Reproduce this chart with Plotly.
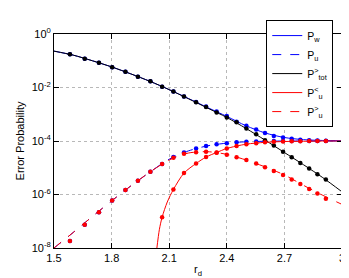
import plotly.graph_objects as go

# ---- data (log10 of probabilities) ----
r_sim = [1.583, 1.660, 1.734, 1.803, 1.872, 1.937, 2.002, 2.063, 2.122, 2.177,
         2.240, 2.292, 2.347, 2.400, 2.451, 2.502, 2.553, 2.599, 2.645, 2.693,
         2.738, 2.783, 2.829, 2.872, 2.916]

ptot_sim_log = [-0.753, -0.927, -1.077, -1.24, -1.41, -1.60, -1.77, -1.97, -2.15, -2.34,
                -2.55, -2.73, -2.93, -3.125, -3.30, -3.53, -3.75, -3.97, -4.17, -4.40,
                -4.61, -4.82, -5.03, -5.24, -5.44]
pw_sim_log = [-0.753, -0.927, -1.077, -1.24, -1.41, -1.60, -1.77, -1.97, -2.15, -2.34,
              -2.54, -2.71, -2.90, -3.07, -3.28, -3.43, -3.57, -3.70, -3.81, -3.87,
              -3.92, -3.95, -3.97, -3.98, -3.99]
pu_sim_log = [-7.74, -7.13, -6.66, -6.22, -5.83, -5.49, -5.15, -4.86, -4.60, -4.43,
              -4.28, -4.19, -4.12, -4.08, -4.05, -4.03, -4.02, -4.01, -4.00, -4.00,
              -4.00, -4.00, -4.00, -4.00, -4.00]
pul_sim_log = [None, None, None, None, None, None, None, -6.85, -5.81, -5.20,
               -4.84, -4.60, -4.43, -4.28, -4.19, -4.12, -4.08, -4.05, -4.03, -4.02,
               -4.01, -4.01, -4.00, -4.00, -4.00]
pug_sim_log = [-7.74, -7.13, -6.66, -6.22, -5.83, -5.49, -5.15, -4.86, -4.63, -4.48,
               -4.42, -4.40, -4.44, -4.51, -4.61, -4.71, -4.84, -4.98, -5.12, -5.27,
               -5.44, -5.61, -5.79, -5.96, -6.16]

r_line = [1.5, 1.6, 1.7, 1.8, 1.9, 2.0, 2.1, 2.2, 2.3, 2.4, 2.5, 2.6, 2.7, 2.8, 2.9, 3.0]
ptot_line_log = [-0.64, -0.79, -1.00, -1.23, -1.49, -1.77, -2.08, -2.42, -2.77, -3.12,
                 -3.53, -3.97, -4.43, -4.89, -5.37, -5.90]
pw_line_log = [-0.64, -0.79, -1.00, -1.23, -1.49, -1.77, -2.08, -2.41, -2.75, -3.08,
               -3.43, -3.70, -3.87, -3.95, -3.98, -3.99]
pu_line_log = [-8.00, -7.42, -6.82, -6.24, -5.68, -5.16, -4.68, -4.37, -4.18, -4.08,
               -4.03, -4.01, -4.00, -4.00, -4.00, -4.00]
pug_line_log = [-8.00, -7.42, -6.82, -6.24, -5.68, -5.16, -4.71, -4.45, -4.40, -4.50,
                -4.71, -4.97, -5.27, -5.66, -6.03, -6.37]
r_line_l = [2.035, 2.049, 2.063, 2.09, 2.122, 2.177, 2.24, 2.292, 2.347, 2.4,
            2.5, 2.6, 2.7, 2.8, 2.9, 3.0]
pul_line_log = [-8.05, -7.30, -6.85, -6.28, -5.81, -5.20, -4.84, -4.60, -4.43, -4.28,
                -4.12, -4.05, -4.02, -4.01, -4.00, -4.00]

x_ticks = [1.5, 1.8, 2.1, 2.4, 2.7, 3.0]
x_ticktext = ["1.5", "1.8", "2.1", "2.4", "2.7", "3"]
y_ticks_exp = [0, -2, -4, -6, -8]


def p(vals):
    return [None if v is None else 10 ** v for v in vals]


BLUE = "#0000ff"
RED = "#ff0000"
BLACK = "#000000"
FONT = "Liberation Sans, Arial, Helvetica, sans-serif"

fig = go.Figure()

series = [
    ("P<sub>w</sub>", BLUE, "solid", r_line, pw_line_log, pw_sim_log),
    ("P<sub>u</sub>", BLUE, "dash", r_line, pu_line_log, pu_sim_log),
    ("P<sup>></sup><sub>tot</sub>", BLACK, "solid", r_line, ptot_line_log, ptot_sim_log),
    ("P<sup><</sup><sub>u</sub>", RED, "solid", r_line_l, pul_line_log, pul_sim_log),
    ("P<sup>></sup><sub>u</sub>", RED, "dash", r_line, pug_line_log, pug_sim_log),
]

for name, color, dash, rl, line_vals, sim_vals in series:
    fig.add_trace(go.Scatter(
        x=rl, y=p(line_vals), mode="lines", name=name,
        line=dict(color=color, width=1, dash=dash, shape="spline", smoothing=0.8),
    ))
    fig.add_trace(go.Scatter(
        x=r_sim, y=p(sim_vals), mode="markers", showlegend=False,
        marker=dict(color=color, size=4.5, line=dict(width=0)),
        hoverinfo="skip",
    ))

axis_common = dict(
    showline=True, linecolor="black", linewidth=1, mirror="ticks",
    ticks="inside", ticklen=5, tickcolor="black", tickwidth=1,
    showgrid=True, gridcolor="#b8b8b8", griddash="dot", gridwidth=1,
    zeroline=False, tickfont=dict(family=FONT, size=11, color="black"),
)

fig.update_layout(
    width=349, height=278,
    margin=dict(l=41, r=12, t=13, b=34),
    paper_bgcolor="white", plot_bgcolor="white",
    font=dict(family=FONT, size=11, color="black"),
    xaxis=dict(range=[1.5, 3.0], tickvals=x_ticks, ticktext=x_ticktext,
               title=dict(text="r<sub>d</sub>", standoff=2,
                          font=dict(family=FONT, size=11)),
               **axis_common),
    yaxis=dict(type="log", range=[-8, 0],
               tickvals=[10 ** e for e in y_ticks_exp],
               ticktext=["10<sup>%d</sup>" % e for e in y_ticks_exp],
               title=dict(text="Error Probability", standoff=4,
                          font=dict(family=FONT, size=11)),
               **axis_common),
    legend=dict(x=0.737, y=1.065, xanchor="left", yanchor="top",
                bgcolor="white", bordercolor="black", borderwidth=1,
                font=dict(family=FONT, size=10.5), tracegroupgap=0,
                itemwidth=30, yref="paper", xref="paper"),
    showlegend=True,
)

fig.write_html("out.html")
